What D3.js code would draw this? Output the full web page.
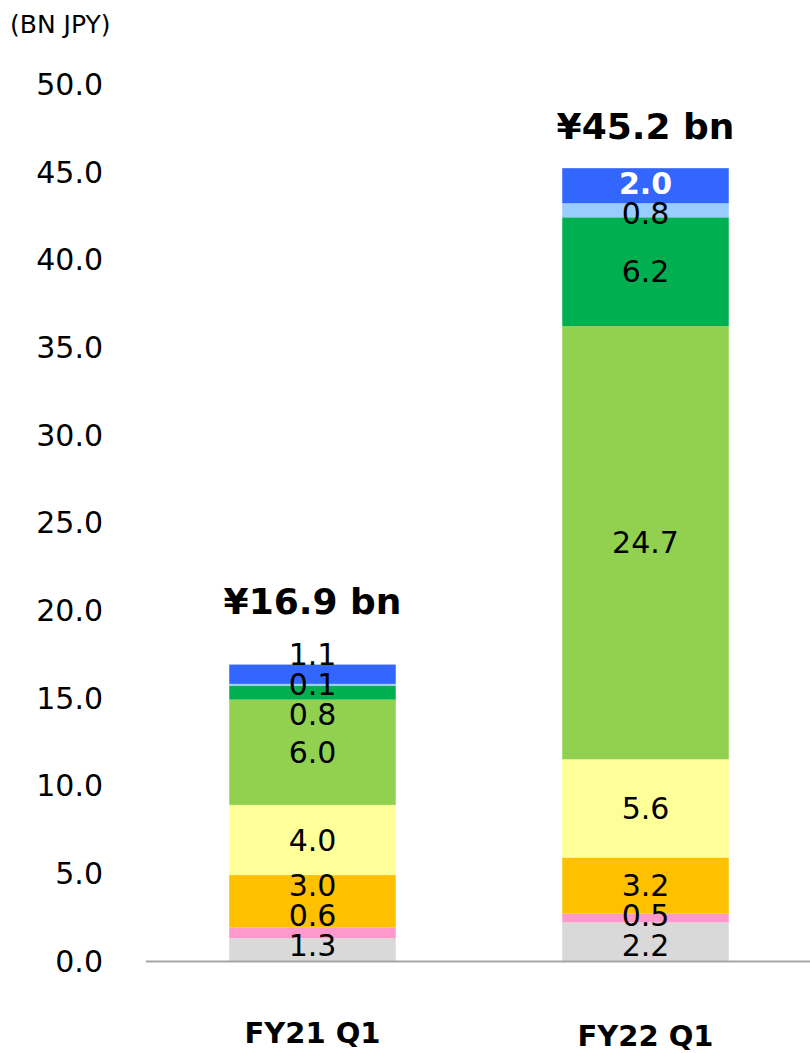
<!DOCTYPE html>
<html>
<head>
<meta charset="utf-8">
<script src="https://cdn.jsdelivr.net/npm/d3@7"></script>
<style>
  body { margin: 0; background: #fff; }
  text { font-family: "DejaVu Sans", Verdana, sans-serif; }
</style>
</head>
<body>
<svg id="chart" width="810" height="1053"></svg>
<script>
// data, bottom segment first
var categories = ["FY21 Q1", "FY22 Q1"];
var totals = ["¥16.9 bn", "¥45.2 bn"];
var fy21 = [1.3, 0.6, 3.0, 4.0, 6.0, 0.8, 0.1, 1.1];
var fy22 = [2.2, 0.5, 3.2, 5.6, 24.7, 6.2, 0.8, 2.0];
var colors = ["#d9d9d9", "#ff99cc", "#ffc000", "#ffff99", "#92d050", "#00b050", "#99ccff", "#3366ff"];
var yTicks = [0, 5, 10, 15, 20, 25, 30, 35, 40, 45, 50];

var svg = d3.select("#chart");

var y = d3.scaleLinear().domain([0, 50]).range([961, 84]);
var x = d3.scaleBand().domain(categories).range([146, 812]).paddingInner(0.5).paddingOuter(0.25);

svg.append("text").attr("x", 10).attr("y", 33)
   .style("font-size", "25px").text("(BN JPY)");

// y tick labels
svg.selectAll(".ytick").data(yTicks).enter().append("text")
   .attr("class", "ytick")
   .attr("x", 103)
   .attr("y", d => y(d))
   .attr("dy", "0.36em")
   .attr("text-anchor", "end")
   .style("font-size", "30px")
   .text(d => d.toFixed(1));

var series = [fy21, fy22];

// spread labels apart so they don't overlap, lowest one kept inside the bar
function spread(pos, gap, bottom) {
  var p = pos.slice();
  for (var it = 0; it < 300; it++) {
    var moved = false;
    if (p[0] > bottom) { p[0] = bottom; moved = true; }
    for (var i = 0; i < p.length - 1; i++) {
      var d = p[i] - p[i + 1];
      if (d < gap - 0.01) {
        var s = (gap - d) / 2;
        p[i] += s; p[i + 1] -= s;
        moved = true;
      }
    }
    if (!moved) break;
  }
  return p;
}

series.forEach(function(vals, si) {
  var cat = categories[si];
  var segs = [];
  var acc = 0;
  vals.forEach(function(v, i) {
    segs.push({v: v, y0: acc, y1: acc + v, color: colors[i], i: i});
    acc += v;
  });

  var g = svg.append("g");
  g.selectAll("rect").data(segs).enter().append("rect")
   .attr("x", x(cat))
   .attr("width", x.bandwidth())
   .attr("y", d => y(d.y1))
   .attr("height", d => y(d.y0) - y(d.y1))
   .style("fill", d => d.color);

  var mids = segs.map(d => y((d.y0 + d.y1) / 2));
  var ly = spread(mids, 30, y(0) - 16);

  g.selectAll(".lbl").data(segs).enter().append("text")
   .attr("class", "lbl")
   .attr("x", x(cat) + x.bandwidth() / 2)
   .attr("y", (d, i) => ly[i])
   .attr("dy", "0.36em")
   .attr("text-anchor", "middle")
   .style("font-size", "30px")
   .style("font-weight", d => (si == 1 && d.i == 7) ? "bold" : "normal")
   .style("fill", d => (si == 1 && d.i == 7) ? "#fff" : "#000")
   .text(d => d.v.toFixed(1));

  var topLbl = ly[ly.length - 1];
  g.append("text")
   .attr("x", x(cat) + x.bandwidth() / 2)
   .attr("y", Math.min(y(acc) - 29, topLbl - 40))
   .attr("text-anchor", "middle")
   .style("font-size", "36px")
   .style("font-weight", "bold")
   .text(totals[si]);
});

// baseline
svg.append("line")
   .attr("x1", 146).attr("x2", 810)
   .attr("y1", y(0) + 0.5).attr("y2", y(0) + 0.5)
   .style("stroke", "#a6a6a6").style("stroke-width", 2);

// category labels
svg.selectAll(".cat").data(categories).enter().append("text")
   .attr("class", "cat")
   .attr("x", d => x(d) + x.bandwidth() / 2)
   .attr("y", (d, i) => i == 0 ? 1043 : 1046)
   .attr("text-anchor", "middle")
   .style("font-size", "29px")
   .style("font-weight", "bold")
   .text(d => d);
</script>
</body>
</html>
